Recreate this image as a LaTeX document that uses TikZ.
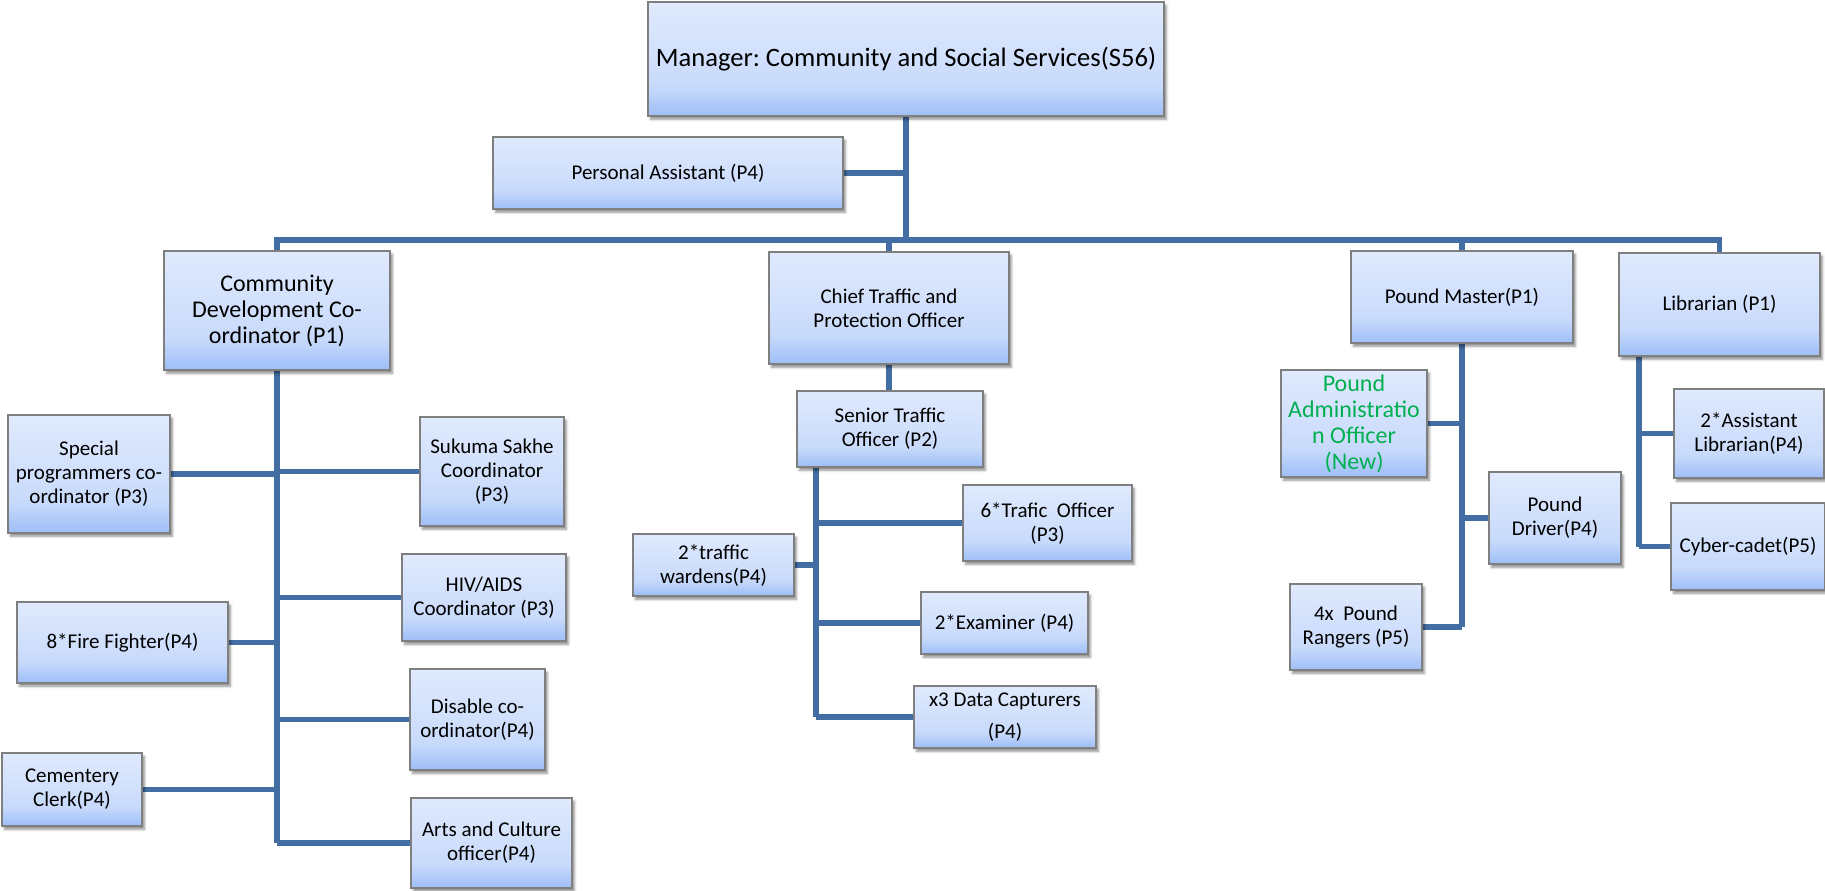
\documentclass[tikz,border=0pt]{standalone}
\usepackage{fontspec}
\setmainfont{Carlito}
\usetikzlibrary{shadows.blur}
\definecolor{bt}{HTML}{E0EAFD}
\definecolor{bm}{HTML}{C8DAFB}
\definecolor{bb}{HTML}{9DBEF7}
\definecolor{ln}{RGB}{66,110,163}
\definecolor{bd}{HTML}{7F7F7F}
\definecolor{newgreen}{HTML}{00B050}
\pgfdeclareverticalshading{boxshade}{100bp}{color(0bp)=(bb); color(25bp)=(bb); color(38bp)=(bm); color(75bp)=(bt); color(100bp)=(bt)}
\pgfdeclarelayer{bg}
\pgfsetlayers{bg,main}
\frenchspacing
\begin{document}
\begin{tikzpicture}[x=0.5pt,y=-0.5pt,
 box/.style={draw=bd, line width=0.6pt, shading=boxshade,
   blur shadow={shadow xshift=1.2pt, shadow yshift=-1.6pt, shadow opacity=45, shadow blur radius=1.2pt},
   inner sep=0pt, align=center, font=\fontsize{10.5}{12}\selectfont, text=black},
 con/.style={draw=ln, line width=2.6pt},
]
\useasboundingbox (0,0) rectangle (1825,890);

% top level
\node[box, minimum width=258pt, minimum height=57pt, font=\fontsize{13.3}{15}\selectfont] (mgr) at (906,59) {Manager: Community and Social Services(S56)};
\node[box, minimum width=175pt, minimum height=36pt] (pa) at (668,173) {Personal Assistant (P4)};

% second level
\node[box, minimum width=113pt, minimum height=59.5pt, font=\fontsize{12}{13}\selectfont] (cdc) at (277,310.5) {Community\\Development Co-\\ordinator (P1)};
\node[box, minimum width=120pt, minimum height=56pt] (chief) at (889,308) {Chief Traffic and\\Protection Officer};
\node[box, minimum width=111pt, minimum height=46pt] (pm) at (1462,297) {Pound Master(P1)};
\node[box, minimum width=100.5pt, minimum height=51.5pt] (lib) at (1719.5,304.5) {Librarian (P1)};

% community development children
\node[box, minimum width=81pt, minimum height=59pt] (sp) at (89,474) {Special\\programmers co-\\ordinator (P3)};
\node[box, minimum width=72pt, minimum height=54.5pt] (suk) at (492,471.5) {Sukuma Sakhe\\Coordinator\\(P3)};
\node[box, minimum width=82pt, minimum height=43.5pt] (hiv) at (484,597.5) {HIV/AIDS\\Coordinator (P3)};
\node[box, minimum width=105.5pt, minimum height=40.5pt] (fire) at (122.5,642.5) {8*Fire Fighter(P4)};
\node[box, minimum width=67.5pt, minimum height=50.5pt] (dis) at (477.5,719.5) {Disable co-\\ordinator(P4)};
\node[box, minimum width=70pt, minimum height=36.5pt] (cem) at (72,789.5) {Cementery\\Clerk(P4)};
\node[box, minimum width=80.5pt, minimum height=45pt] (arts) at (491.5,843) {Arts and Culture\\officer(P4)};

% traffic
\node[box, minimum width=93pt, minimum height=38pt] (senior) at (890,429) {Senior Traffic\\Officer (P2)};
\node[box, minimum width=84.5pt, minimum height=38pt] (six) at (1047.5,523) {6*Trafic\ \ Officer\\(P3)};
\node[box, minimum width=80.5pt, minimum height=31pt] (ward) at (713.5,565) {2*traffic\\wardens(P4)};
\node[box, minimum width=83.5pt, minimum height=31pt] (exam) at (1004.5,623) {2*Examiner (P4)};
\node[box, minimum width=91pt, minimum height=31pt] (data) at (1005,717) {x3 Data Capturers\\[4pt](P4)};

% pound
\node[box, minimum width=73pt, minimum height=53.5pt, font=\fontsize{12}{13}\selectfont, text=newgreen] (admin) at (1354,423.5) {Pound\\Administratio\\n Officer\\(New)};
\node[box, minimum width=66pt, minimum height=46pt] (driver) at (1555,518) {Pound\\Driver(P4)};
\node[box, minimum width=66pt, minimum height=43pt] (rang) at (1356,627) {4x\ \ Pound\\Rangers (P5)};

% library
\node[box, minimum width=75pt, minimum height=44.5pt] (asst) at (1749,433.5) {2*Assistant\\Librarian(P4)};
\node[box, minimum width=77pt, minimum height=43.5pt] (cyber) at (1748,546.5) {Cyber-cadet(P5)};

\coordinate (jm) at (906,240);
\coordinate (tv) at (816,467);
\coordinate (lv) at (1639,356);

\begin{pgfonlayer}{bg}
\draw[con] (mgr.south) -- (jm);
\draw[con] (pa.east) -- (pa.east -| jm);
\draw[con] (cdc.north) |- (jm) -| (lib.north);
\draw[con] (chief.north) -- (chief.north |- jm);
\draw[con] (pm.north) -- (pm.north |- jm);
% cdc
\draw[con] (cdc.south) -- (cdc.south |- arts.west);
\draw[con] (sp.east) -- (sp.east -| cdc.south);
\draw[con] (suk.west) -- (suk.west -| cdc.south);
\draw[con] (hiv.west) -- (hiv.west -| cdc.south);
\draw[con] (fire.east) -- (fire.east -| cdc.south);
\draw[con] (dis.west) -- (dis.west -| cdc.south);
\draw[con] (cem.east) -- (cem.east -| cdc.south);
\draw[con] (arts.west) -- (arts.west -| cdc.south);
% traffic
\draw[con] (chief.south) -- (chief.south |- senior.north);
\draw[con] (tv) -- (tv |- data.west);
\draw[con] (six.west) -- (six.west -| tv);
\draw[con] (ward.east) -- (ward.east -| tv);
\draw[con] (exam.west) -- (exam.west -| tv);
\draw[con] (data.west) -- (data.west -| tv);
% pound
\draw[con] (pm.south) -- (pm.south |- rang.east);
\draw[con] (admin.east) -- (admin.east -| pm.south);
\draw[con] (driver.west) -- (driver.west -| pm.south);
\draw[con] (rang.east) -- (rang.east -| pm.south);
% library
\draw[con] (lv) -- (lv |- cyber.west);
\draw[con] (asst.west) -- (asst.west -| lv);
\draw[con] (cyber.west) -- (cyber.west -| lv);
\end{pgfonlayer}
\end{tikzpicture}
\end{document}
